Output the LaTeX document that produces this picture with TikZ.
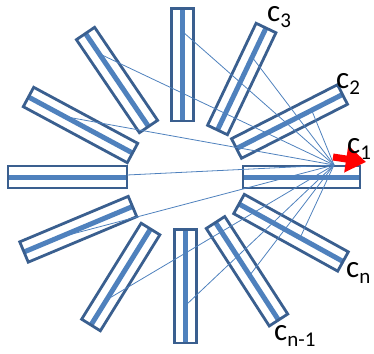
\documentclass[tikz,border=0pt]{standalone}
\usepackage{fontspec}
\setmainfont{Carlito}
\usetikzlibrary{calc,arrows.meta}
\definecolor{edgeblue}{HTML}{3A5F8F}
\definecolor{coreblue}{HTML}{4F81BD}
\definecolor{rayblue}{HTML}{4F81BD}
\newcommand\sub[1]{\raisebox{-6pt}{\fontsize{21}{24}\selectfont #1}}
\newcommand\sensorbar[3]{%
  \coordinate (#1a) at (#2);
  \coordinate (#1b) at (#3);
  \draw[coreline] (#1a) -- (#1b);
  \draw[edgeline] ($(#1a)!11pt!90:(#1b)$) -- ($(#1b)!11pt!-90:(#1a)$)
     -- ($(#1b)!11pt!90:(#1a)$) -- ($(#1a)!11pt!-90:(#1b)$) -- cycle;
}
\begin{document}
\begin{tikzpicture}[x=1pt,y=-1pt,
  coreline/.style={coreblue, line width=5pt},
  edgeline/.style={edgeblue, line width=2.8pt, line join=miter},
  rayline/.style={rayblue, line width=0.8pt},
  lab/.style={anchor=base west, inner sep=0pt, font=\fontsize{31}{36}\selectfont}]
\useasboundingbox (0,0) rectangle (374,353);
% bars
\sensorbar{c1}{243,177}{360,177}
\sensorbar{c2}{236.5,148.5}{342.5,94.5}
\sensorbar{c3}{217.5,130}{266,28}
\sensorbar{t}{182.5,121}{182.5,8.5}
\sensorbar{ua}{148.5,126.5}{85.5,33.5}
\sensorbar{ub}{132.5,153}{28.5,97}
\sensorbar{l}{127,177}{8,177}
\sensorbar{la}{132.5,206.5}{24,252}
\sensorbar{lb}{150.5,229}{91,325}
\sensorbar{b}{185.5,229.5}{185.5,343}
\sensorbar{cm}{215.5,222.5}{278.5,320}
\sensorbar{cn}{239,204}{343,261.5}
% ray end points
\coordinate (P) at (334,165);
\coordinate (eT) at (183,32);
\coordinate (eUA) at (102,55);
\coordinate (eUB) at (67,117);
\coordinate (eL) at (127,175);
\coordinate (eLA) at (57,238);
\coordinate (eLB) at (108,299);
\coordinate (eB) at (186,305);
\coordinate (eCM) at (250,275);
\coordinate (eCN) at (300,238);
\coordinate (eC3) at (252,57);
\coordinate (eC2) at (312,111);
\foreach \e in {eT,eUA,eUB,eL,eLA,eLB,eB,eCM,eCN,eC3,eC2}
  \draw[rayline] (P) -- (\e);
% red arrow
\coordinate (rs) at (333,157);
\coordinate (rt) at (366,162);
\draw[red, line width=7pt, -{Triangle[length=20pt,width=26pt]}] (rs) -- (rt);
% labels
\node[lab] (t1) at (347,153) {c\sub{1}};
\node[lab] (t2) at (336,88) {c\sub{2}};
\node[lab] (t3) at (267,22) {c\sub{3}};
\node[lab] (tn) at (346,277) {c\sub{n}};
\node[lab] (tm) at (274,340) {c\sub{n-1}};
\end{tikzpicture}
\end{document}
